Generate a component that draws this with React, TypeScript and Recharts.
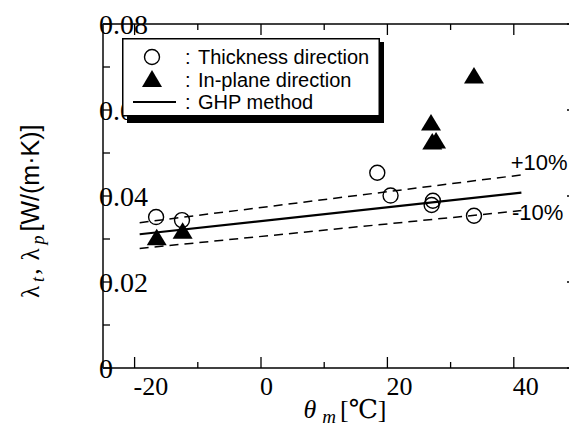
import React from 'react';
import { ScatterChart, Scatter, XAxis, YAxis, Legend } from 'recharts';

// ---- data ----
const thicknessX = [-16.6, -12.5, 18.4, 20.5, 27.2, 27.0, 33.7];
const thicknessY = [0.0351, 0.0344, 0.0454, 0.0401, 0.0389, 0.0379, 0.0354];
const inPlaneX = [-16.5, -12.4, 26.9, 27.1, 27.7, 33.7];
const inPlaneY = [0.0304, 0.0319, 0.0571, 0.0527, 0.0529, 0.068];
const ghpX = [-19.2, 41.2];
const ghpY = [0.0311, 0.0408];
const ghpPlusY = [0.0338, 0.0449];
const ghpMinusY = [0.0278, 0.0366];
const noteText = ['+10%', '-10%'];
const noteX = [39.5, 39.7];
const noteY = [0.0479, 0.0362];

const xTicks = [-20, -10, 0, 10, 20, 30, 40];
const xLabelTicks = [-20, 0, 20, 40];
const yTicks = [0, 0.01, 0.02, 0.03, 0.04, 0.05, 0.06, 0.07, 0.08];
const yLabelTicks = ['0', '0.02', '0.04', '0.06', '0.08'];

const zip = (xs: number[], ys: number[]) => xs.map((x, i) => ({ x, y: ys[i] }));
const thickness = zip(thicknessX, thicknessY);
const inPlane = zip(inPlaneX, inPlaneY);
const ghp = zip(ghpX, ghpY);
const ghpPlus = zip(ghpX, ghpPlusY);
const ghpMinus = zip(ghpX, ghpMinusY);
const notes = noteText.map((t, i) => ({ x: noteX[i], y: noteY[i], t }));

const SERIF = '"Liberation Serif", "Times New Roman", "DejaVu Serif", serif';
const SANS = '"Liberation Sans", Arial, "DejaVu Sans", sans-serif';

const fmtY = (v: number) => (v === 0 ? '0' : v.toFixed(2));

const BottomTick = (p: any) => {
  const { x, y, payload } = p;
  const major = xLabelTicks.includes(payload.value);
  return (
    <g>
      <line x1={x} x2={x} y1={y} y2={y - (major ? 11 : 6)} stroke="#000" strokeWidth={1.3} />
      {major && (
        <text x={x - 1} y={y + 18} textAnchor="start" dominantBaseline="central" fontFamily={SERIF} fontSize={26} fill="#000">
          {payload.value}
        </text>
      )}
    </g>
  );
};

const TopTick = (p: any) => {
  const { x, y, payload } = p;
  const major = xLabelTicks.includes(payload.value);
  return <line x1={x} x2={x} y1={y} y2={y + (major ? 11 : 6)} stroke="#000" strokeWidth={1.3} />;
};

const LeftTick = (p: any) => {
  const { x, y, payload } = p;
  const s = fmtY(payload.value);
  const major = yLabelTicks.includes(s);
  return (
    <g>
      <line x1={x} x2={x + 7} y1={y} y2={y} stroke="#000" strokeWidth={1.3} />
      {major && (
        <text x={x - 4} y={y} textAnchor="start" dominantBaseline="central" fontFamily={SERIF} fontSize={28} fill="#000">
          {s}
        </text>
      )}
    </g>
  );
};

const RightTick = (p: any) => {
  const { x, y, payload } = p;
  const major = yLabelTicks.includes(fmtY(payload.value));
  return <line x1={x} x2={x - (major ? 10 : 6)} y1={y} y2={y} stroke="#000" strokeWidth={1.3} />;
};

const Circle = (p: any) => (
  <circle cx={p.cx} cy={p.cy} r={7.5} fill="none" stroke="#000" strokeWidth={1.4} />
);
const Triangle = (p: any) => (
  <path d={`M${p.cx},${p.cy - 8.5}L${p.cx + 10},${p.cy + 8}L${p.cx - 10},${p.cy + 8}Z`} fill="#000" />
);
const Nothing = () => <g />;
const NoteShape = (p: any) => (
  <text x={p.cx} y={p.cy} textAnchor="start" dominantBaseline="central" fontFamily={SANS} fontSize={22} fill="#000">
    {p.payload.t}
  </text>
);

const XTitle = (p: any) => {
  const vb = p.viewBox || { x: 103, y: 368, width: 474 };
  const cx = vb.x + vb.width / 2 + 5;
  return (
    <text x={cx} y={418} textAnchor="middle" fontFamily={SERIF} fontSize={26} fill="#000">
      <tspan fontStyle="italic">θ</tspan>
      <tspan fontStyle="italic" fontSize={19} dy={5} dx={6}>m</tspan>
      <tspan dy={-5} dx={4}>[℃]</tspan>
    </text>
  );
};

const YTitle = () => (
  <text transform="translate(39,298) rotate(-90)" x={0} y={0} textAnchor="start" fontFamily={SERIF} fontSize={25} fill="#000">
    <tspan>λ</tspan>
    <tspan fontStyle="italic" fontSize={18} dy={5} dx={4}>t</tspan>
    <tspan dy={-5} dx={2}>,</tspan>
    <tspan dx={8}>λ</tspan>
    <tspan fontStyle="italic" fontSize={18} dy={5} dx={4}>p</tspan>
    <tspan dy={-5} dx={4} fontFamily={SANS}>[W/(m·K)]</tspan>
  </text>
);

const LegendBox = () => (
  <svg width={264} height={86} style={{ display: 'block' }}>
    <rect x={5} y={4} width={257} height={81} fill="#000" />
    <rect x={0.75} y={0.75} width={256.5} height={77} fill="#fff" stroke="#000" strokeWidth={1.5} />
    <circle cx={30} cy={19} r={7.5} fill="none" stroke="#000" strokeWidth={1.4} />
    <path d="M30,32L40,49L20,49Z" fill="#000" />
    <line x1={11} x2={54} y1={64} y2={64} stroke="#000" strokeWidth={2} />
    {[':', ':', ':'].map((c, i) => (
      <text key={i} x={63} y={19 + i * 22.5} dominantBaseline="central" fontFamily={SANS} fontSize={20} fill="#000">
        {c}
      </text>
    ))}
    <text x={76} y={19} dominantBaseline="central" fontFamily={SANS} fontSize={20} fill="#000">Thickness direction</text>
    <text x={76} y={41.5} dominantBaseline="central" fontFamily={SANS} fontSize={20} fill="#000">In-plane direction</text>
    <text x={76} y={64} dominantBaseline="central" fontFamily={SANS} fontSize={20} fill="#000">GHP method</text>
  </svg>
);

export default function App() {
  return (
    <div style={{ position: 'absolute', left: 0, top: 0, width: 569, height: 428, overflow: 'hidden', background: '#fff' }}>
      <ScatterChart width={600} height={428} margin={{ top: 0, right: 0, bottom: 0, left: 0 }}>
        <XAxis
          xAxisId="b"
          type="number"
          dataKey="x"
          domain={[-25, 50]}
          allowDataOverflow
          ticks={xTicks}
          interval={0}
          height={60}
          tickSize={0}
          tickMargin={0}
          tickLine={false}
          axisLine={{ stroke: '#000', strokeWidth: 1.5 }}
          tick={(p: any) => <BottomTick {...p} />}
          label={(p: any) => <XTitle {...p} />}
        />
        <XAxis
          xAxisId="t"
          orientation="top"
          type="number"
          dataKey="x"
          domain={[-25, 50]}
          allowDataOverflow
          ticks={xTicks}
          interval={0}
          height={24}
          tickSize={0}
          tickMargin={0}
          tickLine={false}
          axisLine={{ stroke: '#000', strokeWidth: 1.3 }}
          tick={(p: any) => <TopTick {...p} />}
        />
        <YAxis
          yAxisId="l"
          type="number"
          dataKey="y"
          domain={[0, 0.08]}
          allowDataOverflow
          ticks={yTicks}
          interval={0}
          width={103}
          tickSize={0}
          tickMargin={0}
          tickLine={false}
          axisLine={{ stroke: '#444', strokeWidth: 2 }}
          tick={(p: any) => <LeftTick {...p} />}
          label={() => <YTitle />}
        />
        <YAxis
          yAxisId="r"
          orientation="right"
          type="number"
          dataKey="y"
          domain={[0, 0.08]}
          allowDataOverflow
          ticks={yTicks}
          interval={0}
          width={23}
          tickSize={0}
          tickMargin={0}
          tickLine={false}
          axisLine={{ stroke: '#000', strokeWidth: 1.3 }}
          tick={(p: any) => <RightTick {...p} />}
        />
        <Scatter xAxisId="b" yAxisId="l" data={ghpPlus} line={{ stroke: '#000', strokeWidth: 1.5, strokeDasharray: '9 6' }} shape={Nothing} isAnimationActive={false} />
        <Scatter xAxisId="b" yAxisId="l" data={ghpMinus} line={{ stroke: '#000', strokeWidth: 1.5, strokeDasharray: '9 6' }} shape={Nothing} isAnimationActive={false} />
        <Scatter xAxisId="b" yAxisId="l" data={ghp} line={{ stroke: '#000', strokeWidth: 2.2 }} shape={Nothing} isAnimationActive={false} />
        <Scatter xAxisId="b" yAxisId="l" data={thickness} shape={Circle} isAnimationActive={false} />
        <Scatter xAxisId="b" yAxisId="l" data={inPlane} shape={Triangle} isAnimationActive={false} />
        <Scatter xAxisId="b" yAxisId="l" data={notes} shape={NoteShape} isAnimationActive={false} />
        <Legend
          layout="vertical"
          align="center"
          verticalAlign="middle"
          content={() => <LegendBox />}
          wrapperStyle={{ position: 'absolute', left: 122, top: 38, width: 264, height: 86, margin: 0, padding: 0 }}
        />
      </ScatterChart>
    </div>
  );
}
